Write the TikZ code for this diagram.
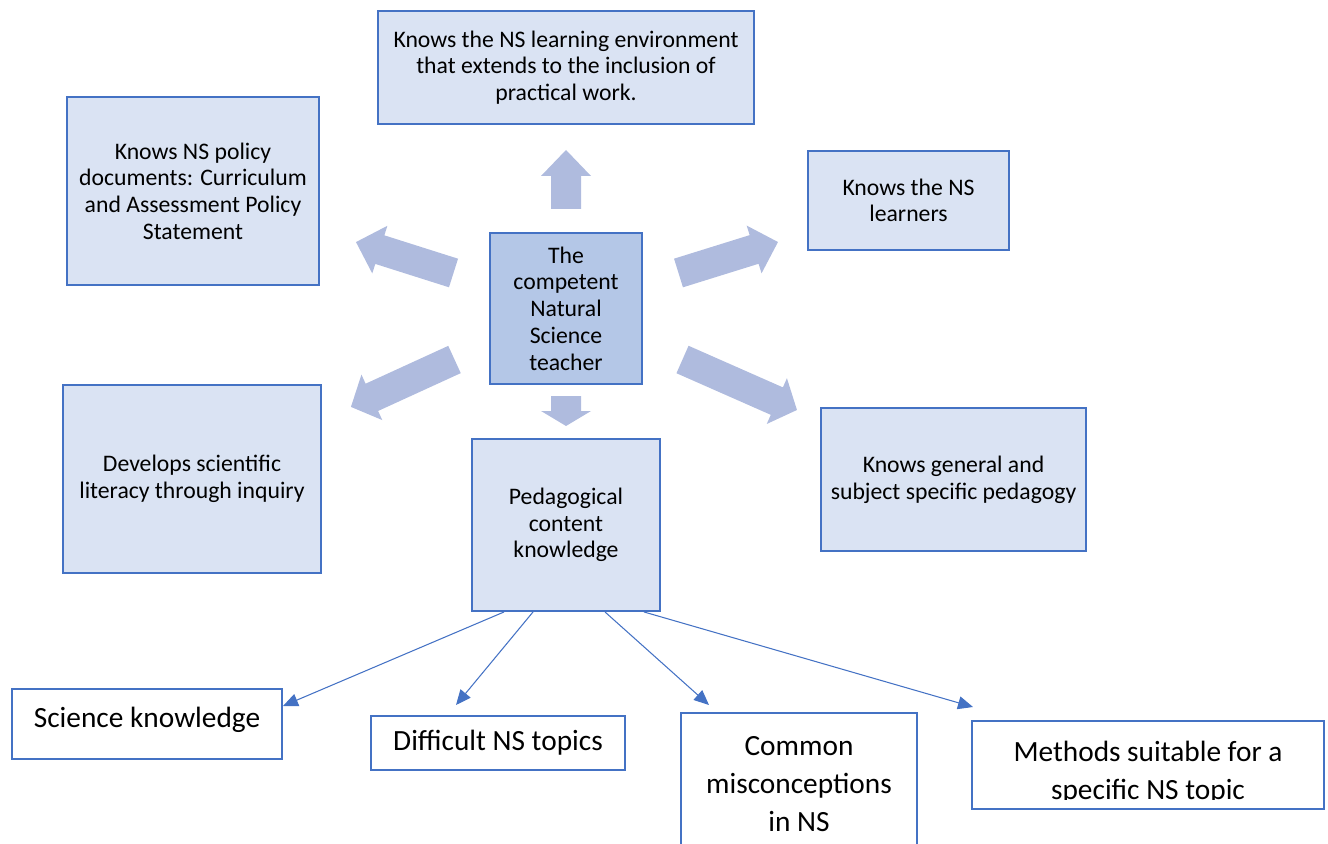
\documentclass[tikz,border=0pt]{standalone}
\usepackage{fontspec}
\setmainfont{Carlito}
\usetikzlibrary{arrows.meta,calc}
\definecolor{nsblue}{RGB}{68,114,196}
\definecolor{nsfill}{RGB}{218,227,243}
\definecolor{nsdark}{RGB}{180,199,231}
\definecolor{nsarrow}{RGB}{175,187,222}

\begin{document}
\begin{tikzpicture}[x=0.02cm,y=-0.02cm,
  dims/.style 2 args={minimum width=#1*0.02cm,minimum height=#2*0.02cm},
  topic/.style={draw=nsblue,line width=1.1pt,fill=nsfill,align=center,inner sep=0pt,
    font=\fontsize{13.5}{15.2}\selectfont},
  item/.style={draw=nsblue,line width=0.6pt,fill=white,align=center,inner sep=0pt,
    font=\fontsize{16.7}{21.6}\selectfont},
  fat/.style={fill=nsarrow},
  thin/.style={draw=nsblue,line width=0.6pt,-{Triangle[length=0.3cm,width=0.26cm]}}]
\useasboundingbox (0,0) rectangle (1328,844);
% upper boxes
\node[topic,dims={376}{113}] (env) at (566,67.5) {Knows the NS learning environment\\that extends to the inclusion of\\practical work.};
\node[topic,dims={252}{188}] (policy) at (193,191) {Knows NS policy\\documents: Curriculum\\and Assessment Policy\\Statement};
\node[topic,dims={201}{99}] (learn) at (908.5,200.5) {Knows the NS\\learners};
\node[topic,fill=nsdark,dims={152}{151}] (teacher) at (566,308.5) {The\\competent\\Natural\\Science\\teacher};
\node[topic,dims={258}{188}] (inquiry) at (192,479) {Develops scientific\\literacy through inquiry};
\node[topic,dims={188}{172}] (pck) at (566,525) {Pedagogical\\content\\knowledge};
\node[topic,dims={265}{143}] (pedag) at (953.5,479.5) {Knows general and\\subject specific pedagogy};
% block arrows round the teacher
\foreach \x/\y/\a/\l/\h in {566/209/90/59/26, 453.5/273/162.4/102.3/25, 678.5/273/17.3/104.2/25,
    454.5/359.5/204.6/113.9/23, 682.5/359.5/-23.8/125.1/22, 566/396/-90/30/15}
  \fill[fat,shift={(\x,\y)},rotate=\a] (0,-15) -- ({\l-\h},-15) -- ({\l-\h},-25) -- (\l,0)
    -- ({\l-\h},25) -- ({\l-\h},15) -- (0,15) -- cycle;
% lower boxes
\node[item,dims={270}{70},text depth=0.25cm] (sci) at (147,724) {Science knowledge};
\node[item,dims={254}{54}] (diff) at (498,743) {Difficult NS topics};
\node[item,dims={236}{142}] (common) at (799,784) {Common\\misconceptions\\in NS};
\node[item,dims={352}{88}] (methods) at (1148,765) {};
\begin{scope}
\clip (methods.north west) rectangle ($(methods.south east)+(0,-10)$);
\node[align=center,font=\fontsize{16.7}{21.6}\selectfont] (methodstext) at (1148,773) {Methods suitable for a\\specific NS topic};
\end{scope}
% thin arrows out of PCK
\coordinate (t1) at (283,706);
\coordinate (t2) at (456,705);
\coordinate (t3) at (709,705);
\coordinate (t4) at (973,707);
\draw[thin] ($(pck.south)+(-62,0)$) -- (t1);
\draw[thin] ($(pck.south)+(-33,0)$) -- (t2);
\draw[thin] ($(pck.south)+(39,0)$) -- (t3);
\draw[thin] ($(pck.south)+(78,0)$) -- (t4);
\end{tikzpicture}
\end{document}
